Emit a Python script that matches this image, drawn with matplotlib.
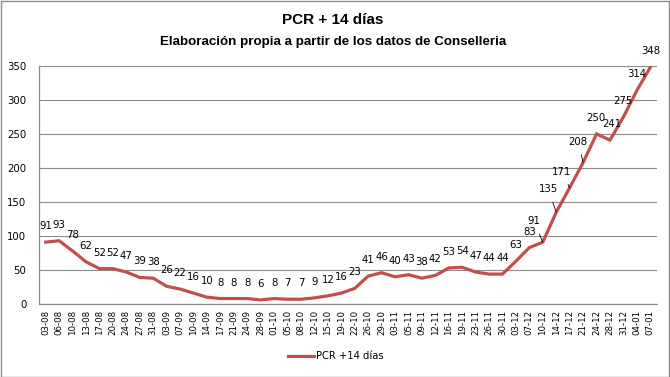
import numpy as np
import matplotlib
matplotlib.use("Agg")
import matplotlib.pyplot as plt
from matplotlib.patches import Rectangle

fechas = ["03-08", "06-08", "10-08", "13-08", "17-08", "20-08", "24-08", "27-08", "31-08",
          "03-09", "07-09", "10-09", "14-09", "17-09", "21-09", "24-09", "28-09",
          "01-10", "05-10", "08-10", "12-10", "15-10", "19-10", "22-10", "26-10", "29-10",
          "03-11", "05-11", "09-11", "12-11", "16-11", "19-11", "23-11", "26-11", "30-11",
          "03-12", "07-12", "10-12", "14-12", "17-12", "21-12", "24-12", "28-12", "31-12",
          "04-01", "07-01"]
pcr = [91, 93, 78, 62, 52, 52, 47, 39, 38,
       26, 22, 16, 10, 8, 8, 8, 6,
       8, 7, 7, 9, 12, 16, 23, 41, 46,
       40, 43, 38, 42, 53, 54, 47, 44, 44,
       63, 83, 91, 135, 171, 208, 250, 241, 275,
       314, 348]
yticks = [0, 50, 100, 150, 200, 250, 300, 350]

# labels moved off the line, with leader lines (offsets in pixels)
leader = {37: (-9, -21), 38: (-8, -23), 39: (-8, -16), 40: (-5, -21)}
shift = {41: (-1, -16), 42: (2, -16)}

W, H = 670, 377
fig = plt.figure(figsize=(W / 100, H / 100), dpi=100)
fig.patches.append(Rectangle((0.5 / W, 0.5 / H), 1 - 1.5 / W, 1 - 1.5 / H,
                             transform=fig.transFigure, fill=False,
                             edgecolor="#8c8c8c", lw=1))
ax = fig.add_axes([39 / W, 1 - 304 / H, (657 - 39) / W, (304 - 66) / H])

x = np.arange(len(pcr))
ax.plot(x, pcr, color="#C0504D", lw=2.3, solid_joinstyle="miter", zorder=3)

px = 72 / 100  # points per pixel
for i, v in enumerate(pcr):
    if i in leader:
        dx, dy = leader[i]
        ax.annotate(str(v), (i, v), xytext=(dx * px, -dy * px), textcoords="offset points",
                    ha="center", va="center", fontsize=7.3, family="DejaVu Sans",
                    arrowprops=dict(arrowstyle="-", color="black", lw=0.6,
                                    shrinkA=4, shrinkB=0))
    else:
        dx, dy = shift.get(i, (0, -16))
        ax.annotate(str(v), (i, v), xytext=(dx * px, -dy * px), textcoords="offset points",
                    ha="center", va="center", fontsize=7.3, family="DejaVu Sans")

ax.set_xlim(-0.5, len(pcr) - 0.5)
ax.set_ylim(0, 350)
ax.set_yticks(yticks)
ax.set_xticks(x)
ax.set_xticklabels(fechas, rotation=90, fontsize=6.2, family="DejaVu Sans")
ax.tick_params(axis="y", labelsize=7.3, length=0, pad=9)
ax.tick_params(axis="x", length=0, pad=4)
ax.grid(axis="y", color="#8c8c8c", lw=0.8)
ax.set_axisbelow(True)
for s in ["top", "right"]:
    ax.spines[s].set_visible(False)
for s in ["left", "bottom"]:
    ax.spines[s].set_color("#8c8c8c")
    ax.spines[s].set_linewidth(0.9)

fig.text(0.497, 1 - 20 / H, "PCR + 14 días", ha="center", va="center",
         fontsize=11, fontweight="bold", family="Liberation Sans")
fig.text(0.497, 1 - 42 / H, "Elaboración propia a partir de los datos de Conselleria",
         ha="center", va="center", fontsize=9.6, fontweight="bold", family="Liberation Sans")

leg = fig.legend([ax.lines[0]], ["PCR +14 días"], loc="center", bbox_to_anchor=(336 / W, 1 - 356 / H),
                 frameon=False, handlelength=2.6, handletextpad=0.2,
                 prop={"family": "DejaVu Sans", "size": 7.2})

fig.savefig("out.png", dpi=100)
